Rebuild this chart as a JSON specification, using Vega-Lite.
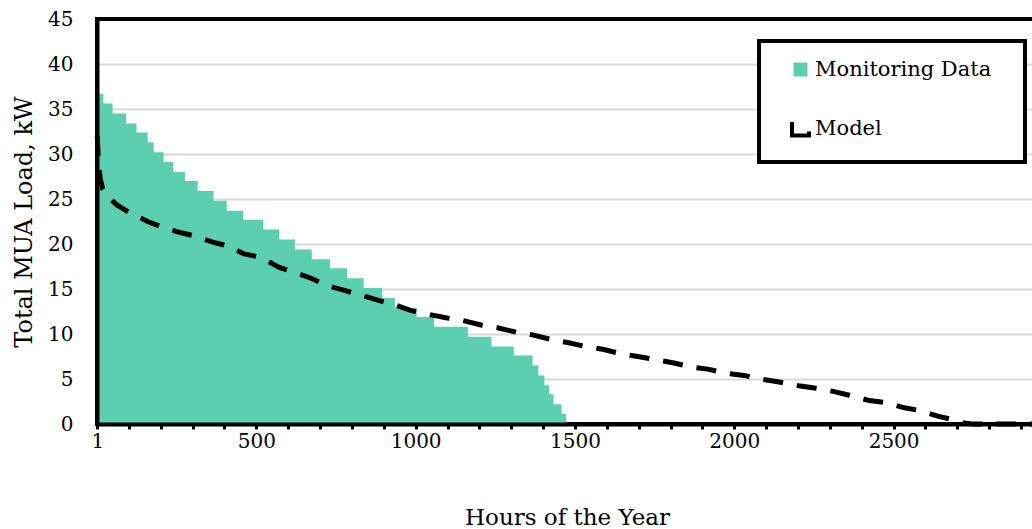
{
  "$schema": "https://vega.github.io/schema/vega-lite/v6.json",
  "width": 940,
  "height": 405,
  "autosize": "none",
  "padding": {"left": 97, "top": 19, "right": 0, "bottom": 105},
  "background": "white",
  "config": {
    "font": "DejaVu Serif",
    "view": {"stroke": "black", "strokeWidth": 4},
    "axis": {"labelFont": "DejaVu Serif", "titleFont": "DejaVu Serif", "labelColor": "black", "titleColor": "black", "titleFontWeight": "normal"}
  },
  "datasets": {
    "monitoring": [
      {"hour": 1, "load": 36.7, "series": "Monitoring Data"},
      {"hour": 20, "load": 35.6, "series": "Monitoring Data"},
      {"hour": 49, "load": 34.5, "series": "Monitoring Data"},
      {"hour": 91, "load": 33.4, "series": "Monitoring Data"},
      {"hour": 124, "load": 32.4, "series": "Monitoring Data"},
      {"hour": 159, "load": 31.3, "series": "Monitoring Data"},
      {"hour": 178, "load": 30.2, "series": "Monitoring Data"},
      {"hour": 209, "load": 29.1, "series": "Monitoring Data"},
      {"hour": 239, "load": 28.0, "series": "Monitoring Data"},
      {"hour": 276, "load": 27.0, "series": "Monitoring Data"},
      {"hour": 316, "load": 25.9, "series": "Monitoring Data"},
      {"hour": 366, "load": 24.8, "series": "Monitoring Data"},
      {"hour": 407, "load": 23.7, "series": "Monitoring Data"},
      {"hour": 459, "load": 22.7, "series": "Monitoring Data"},
      {"hour": 522, "load": 21.6, "series": "Monitoring Data"},
      {"hour": 572, "load": 20.5, "series": "Monitoring Data"},
      {"hour": 621, "load": 19.4, "series": "Monitoring Data"},
      {"hour": 674, "load": 18.3, "series": "Monitoring Data"},
      {"hour": 731, "load": 17.3, "series": "Monitoring Data"},
      {"hour": 785, "load": 16.2, "series": "Monitoring Data"},
      {"hour": 837, "load": 15.1, "series": "Monitoring Data"},
      {"hour": 895, "load": 14.0, "series": "Monitoring Data"},
      {"hour": 935, "load": 12.9, "series": "Monitoring Data"},
      {"hour": 1003, "load": 11.9, "series": "Monitoring Data"},
      {"hour": 1058, "load": 10.8, "series": "Monitoring Data"},
      {"hour": 1164, "load": 9.7, "series": "Monitoring Data"},
      {"hour": 1238, "load": 8.6, "series": "Monitoring Data"},
      {"hour": 1308, "load": 7.6, "series": "Monitoring Data"},
      {"hour": 1367, "load": 6.5, "series": "Monitoring Data"},
      {"hour": 1385, "load": 5.4, "series": "Monitoring Data"},
      {"hour": 1404, "load": 4.3, "series": "Monitoring Data"},
      {"hour": 1419, "load": 3.3, "series": "Monitoring Data"},
      {"hour": 1433, "load": 2.2, "series": "Monitoring Data"},
      {"hour": 1458, "load": 1.1, "series": "Monitoring Data"},
      {"hour": 1472, "load": 0, "series": "Monitoring Data"}
    ],
    "model": [
      {"hour": 1, "load": 32.0, "series": "Model"},
      {"hour": 4, "load": 29.5, "series": "Model"},
      {"hour": 10, "load": 27.3, "series": "Model"},
      {"hour": 18, "load": 26.1, "series": "Model"},
      {"hour": 40, "load": 25.1, "series": "Model"},
      {"hour": 60, "load": 24.4, "series": "Model"},
      {"hour": 101, "load": 23.5, "series": "Model"},
      {"hour": 159, "load": 22.5, "series": "Model"},
      {"hour": 196, "load": 22.0, "series": "Model"},
      {"hour": 258, "load": 21.3, "series": "Model"},
      {"hour": 305, "load": 20.9, "series": "Model"},
      {"hour": 363, "load": 20.2, "series": "Model"},
      {"hour": 410, "load": 19.8, "series": "Model"},
      {"hour": 462, "load": 18.9, "series": "Model"},
      {"hour": 515, "load": 18.5, "series": "Model"},
      {"hour": 572, "load": 17.4, "series": "Model"},
      {"hour": 614, "load": 16.9, "series": "Model"},
      {"hour": 672, "load": 16.2, "series": "Model"},
      {"hour": 719, "load": 15.4, "series": "Model"},
      {"hour": 776, "load": 14.85, "series": "Model"},
      {"hour": 821, "load": 14.4, "series": "Model"},
      {"hour": 886, "load": 13.7, "series": "Model"},
      {"hour": 931, "load": 13.3, "series": "Model"},
      {"hour": 986, "load": 12.6, "series": "Model"},
      {"hour": 1038, "load": 12.2, "series": "Model"},
      {"hour": 1095, "load": 11.8, "series": "Model"},
      {"hour": 1148, "load": 11.5, "series": "Model"},
      {"hour": 1205, "load": 11.0, "series": "Model"},
      {"hour": 1257, "load": 10.7, "series": "Model"},
      {"hour": 1315, "load": 10.2, "series": "Model"},
      {"hour": 1367, "load": 9.9, "series": "Model"},
      {"hour": 1425, "load": 9.4, "series": "Model"},
      {"hour": 1477, "load": 9.05, "series": "Model"},
      {"hour": 1535, "load": 8.6, "series": "Model"},
      {"hour": 1587, "load": 8.3, "series": "Model"},
      {"hour": 1645, "load": 7.8, "series": "Model"},
      {"hour": 1697, "load": 7.5, "series": "Model"},
      {"hour": 1760, "load": 7.1, "series": "Model"},
      {"hour": 1807, "load": 6.8, "series": "Model"},
      {"hour": 1870, "load": 6.3, "series": "Model"},
      {"hour": 1917, "load": 6.1, "series": "Model"},
      {"hour": 1979, "load": 5.6, "series": "Model"},
      {"hour": 2030, "load": 5.4, "series": "Model"},
      {"hour": 2091, "load": 4.95, "series": "Model"},
      {"hour": 2136, "load": 4.7, "series": "Model"},
      {"hour": 2202, "load": 4.25, "series": "Model"},
      {"hour": 2251, "load": 4.0, "series": "Model"},
      {"hour": 2314, "load": 3.6, "series": "Model"},
      {"hour": 2361, "load": 3.2, "series": "Model"},
      {"hour": 2424, "load": 2.6, "series": "Model"},
      {"hour": 2471, "load": 2.4, "series": "Model"},
      {"hour": 2534, "load": 1.8, "series": "Model"},
      {"hour": 2581, "load": 1.5, "series": "Model"},
      {"hour": 2641, "load": 0.85, "series": "Model"},
      {"hour": 2689, "load": 0.45, "series": "Model"},
      {"hour": 2720, "load": 0.1, "series": "Model"},
      {"hour": 2747, "load": 0, "series": "Model"},
      {"hour": 2950, "load": 0, "series": "Model"}
    ]
  },
  "encoding": {
    "x": {
      "field": "hour", "type": "quantitative",
      "scale": {"domain": [0, 2950], "nice": false, "zero": false},
      "axis": {
        "title": "Hours of the Year", "titleFontSize": 23, "titlePadding": 55,
        "values": [1, 100, 200, 300, 400, 500, 600, 700, 800, 900, 1000, 1100, 1200, 1300, 1400, 1500, 1600, 1700, 1800, 1900, 2000, 2100, 2200, 2300, 2400, 2500, 2600, 2700, 2800, 2900],
        "labelExpr": "(datum.value == 1 || datum.value % 500 == 0) ? datum.label : ''",
        "format": "d", "labelFontSize": 20, "labelOverlap": false, "labelFlush": false, "labelPadding": 2,
        "grid": false, "domainColor": "black", "domainWidth": 4,
        "tickColor": "black", "tickWidth": 3, "tickSize": 5, "zindex": 1
      }
    },
    "color": {
      "field": "series", "type": "nominal",
      "scale": {"domain": ["Monitoring Data", "Model"], "range": ["#5dcfb1", "black"]},
      "legend": {
        "title": null, "orient": "none", "legendX": 662, "legendY": 22, "zindex": 2,
        "padding": 18, "symbolOffset": 13, "labelOffset": 4,
        "symbolSize": 400, "rowPadding": 34, "labelLimit": 400,
        "labelFont": "DejaVu Serif", "labelFontSize": 21, "labelColor": "black",
        "labelExpr": "datum.label + '\u2800'",
        "strokeColor": "black", "fillColor": "white",
        "encode": {
          "legend": {"update": {"strokeWidth": {"value": 4}}},
          "symbols": {"update": {
            "shape": {"signal": "datum.value === 'Model' ? 'M -0.85 -0.65 L -0.85 0.7 L 0.85 0.7 L 0.85 0.3' : 'square'"},
            "size": {"signal": "datum.value === 'Model' ? 400 : 196"},
            "fill": {"signal": "datum.value === 'Model' ? 'white' : '#5dcfb1'"},
            "fillOpacity": {"signal": "datum.value === 'Model' ? 0 : 1"},
            "stroke": {"signal": "datum.value === 'Model' ? 'black' : '#5dcfb1'"},
            "strokeOpacity": {"signal": "datum.value === 'Model' ? 1 : 0"},
            "strokeWidth": {"value": 4},
            "opacity": {"value": 1}
          }}
        }
      }
    }
  },
  "layer": [
    {
      "data": {"name": "monitoring"},
      "mark": {"type": "area", "interpolate": "step-after", "opacity": 1},
      "encoding": {
        "y": {
          "field": "load", "type": "quantitative",
          "scale": {"domain": [0, 45], "nice": false},
          "axis": {
            "orient": "left", "title": null, "grid": true, "domain": false, "labels": false, "ticks": false,
            "values": [5, 10, 15, 20, 25, 30, 35, 40],
            "gridColor": "#d9d9d9", "gridWidth": 2, "zindex": 0
          }
        }
      }
    },
    {
      "data": {"name": "model"},
      "mark": {"type": "line", "strokeWidth": 5, "strokeDash": [20, 14], "strokeCap": "butt"},
      "encoding": {
        "y": {
          "field": "load", "type": "quantitative",
          "scale": {"domain": [0, 45], "nice": false},
          "axis": {
            "orient": "left",
            "title": "Total MUA Load, kW", "titleFontSize": 24, "titlePadding": 11,
            "values": [0, 5, 10, 15, 20, 25, 30, 35, 40, 45],
            "labelFontSize": 20, "labelPadding": 24, "ticks": false,
            "grid": false, "domainColor": "black", "domainWidth": 4, "zindex": 1
          }
        }
      }
    }
  ],
  "resolve": {"axis": {"y": "independent"}}
}
